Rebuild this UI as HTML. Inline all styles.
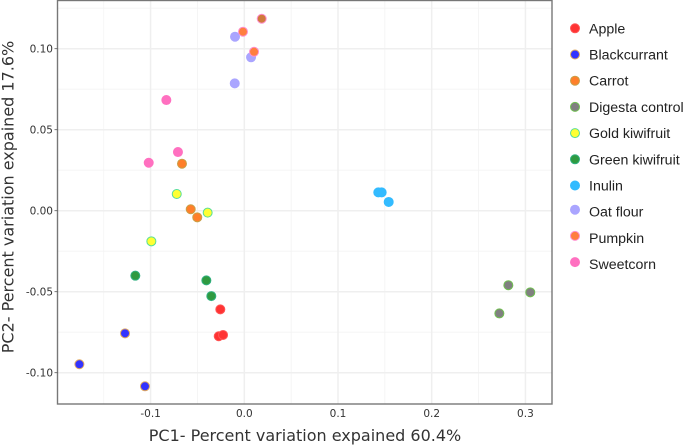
<!DOCTYPE html>
<html>
<head>
<meta charset="utf-8">
<title>PCA scatter plot</title>
<style>
html,body{margin:0;padding:0;background:#fff;width:685px;height:445px;overflow:hidden}
svg{display:block;filter:blur(0.35px)}
.tick{font-family:"DejaVu Sans",sans-serif;font-size:10.5px;fill:#333}
.title{font-family:"DejaVu Sans",sans-serif;font-size:16px;fill:#333}
.leg{font-family:"Liberation Sans",sans-serif;font-size:14.2px;fill:#222}
</style>
</head>
<body>
<svg id="chart" width="685" height="445" viewBox="0 0 685 445" xmlns="http://www.w3.org/2000/svg">
<g id="grid"></g>
<g id="points"></g>
<rect x="57.5" y="0.5" width="494.5" height="403.5" fill="none" stroke="#777" stroke-width="1.4"/>
<g id="ticks"></g>
<text class="title" x="305" y="441" text-anchor="middle">PC1- Percent variation expained 60.4%</text>
<text class="title" transform="translate(13.5,197) rotate(-90)" text-anchor="middle">PC2- Percent variation expained 17.6%</text>
<g id="legend"></g>
</svg>
<script>
const xTicks = [-0.1, 0, 0.1, 0.2, 0.3];
const xTickLabels = ['-0.1', '0.0', '0.1', '0.2', '0.3'];
const xMinor = [-0.15, -0.05, 0.05, 0.15, 0.25];
const yTicks = [0.1, 0.05, 0, -0.05, -0.1];
const yTickLabels = ['0.10', '0.05', '0.00', '-0.05', '-0.10'];
const yMinor = [0.125, 0.075, 0.025, -0.025, -0.075];

const categories = ['Apple', 'Blackcurrant', 'Carrot', 'Digesta control', 'Gold kiwifruit', 'Green kiwifruit', 'Inulin', 'Oat flour', 'Pumpkin', 'Sweetcorn'];
const fills = ['#ff3333', '#3333ff', '#ff7f2a', '#808080', '#ffff33', '#2f9a40', '#33bbff', '#aaa5ff', '#ff7f3f', '#ff70c0'];
const strokes = ['#ff5555', '#e0a860', '#c8a048', '#70c050', '#55dd99', '#30b080', '#33bbff', '#aaa5ff', '#ff90d0', '#ff70c0'];

const pc1Apple = [-0.0256, -0.0273, -0.0227];
const pc2Apple = [-0.0609, -0.0775, -0.0767];
const pc1Blackcurrant = [-0.1273, -0.176, -0.106];
const pc2Blackcurrant = [-0.0757, -0.0948, -0.1084];
const pc1Carrot = [-0.0665, -0.0572, -0.0502];
const pc2Carrot = [0.029, 0.0009, -0.0041];
const pc1Digesta = [0.2818, 0.3052, 0.2722];
const pc2Digesta = [-0.046, -0.0504, -0.0634];
const pc1Gold = [-0.0721, -0.0391, -0.0992];
const pc2Gold = [0.0103, -0.0012, -0.0189];
const pc1Green = [-0.1163, -0.0405, -0.0352];
const pc2Green = [-0.0401, -0.043, -0.0527];
const pc1Inulin = [0.143, 0.1466, 0.1541];
const pc2Inulin = [0.0113, 0.0113, 0.0054];
const pc1Oat = [-0.0099, 0.0072, -0.0102];
const pc2Oat = [0.1074, 0.0947, 0.0786];
const pc1Pumpkin = [-0.0014, 0.0104, 0.0186];
const pc2Pumpkin = [0.1105, 0.0981, 0.1185];
const pc1Sweetcorn = [-0.0832, -0.0708, -0.102];
const pc2Sweetcorn = [0.0683, 0.0362, 0.0296];

const pc1Series = [pc1Apple, pc1Blackcurrant, pc1Carrot, pc1Digesta, pc1Gold, pc1Green, pc1Inulin, pc1Oat, pc1Pumpkin, pc1Sweetcorn];
const pc2Series = [pc2Apple, pc2Blackcurrant, pc2Carrot, pc2Digesta, pc2Gold, pc2Green, pc2Inulin, pc2Oat, pc2Pumpkin, pc2Sweetcorn];

const NS = 'http://www.w3.org/2000/svg';
const left = 57.5, right = 552, top0 = 0.5, bottom = 404;
function xScale(v) { return 244.3 + v * 937; }
function yScale(v) { return 210.7 - v * 1620; }
function make(tag, attrs, parent) {
  const el = document.createElementNS(NS, tag);
  for (const k in attrs) el.setAttribute(k, attrs[k]);
  parent.appendChild(el);
  return el;
}
const grid = document.getElementById('grid');
const ticks = document.getElementById('ticks');
const pointsG = document.getElementById('points');
const legend = document.getElementById('legend');

xMinor.forEach(function (v) {
  const l = make('line', {x1: xScale(v), x2: xScale(v), y1: top0, y2: bottom, stroke: '#f3f3f3', 'stroke-width': 0.8}, grid);
  
  
});
yMinor.forEach(function (v) {
  const l = make('line', {x1: left, x2: right, y1: yScale(v), y2: yScale(v), stroke: '#f3f3f3', 'stroke-width': 0.8}, grid);
  
  
});
xTicks.forEach(function (v, i) {
  const x = xScale(v);
  const l = make('line', {x1: x, x2: x, y1: top0, y2: bottom, stroke: '#efefef', 'stroke-width': 1.5}, grid);
  
  
  const t = make('text', {x: x, y: 417, 'text-anchor': 'middle', class: 'tick'}, ticks);
  t.textContent = xTickLabels[i];
  
  
});
yTicks.forEach(function (v, i) {
  const y = yScale(v);
  const l = make('line', {x1: left, x2: right, y1: y, y2: y, stroke: '#efefef', 'stroke-width': 1.5}, grid);
  
  
  const m = make('line', {x1: 54.5, x2: left, y1: y, y2: y, stroke: '#555', 'stroke-width': 0.8}, ticks);
  
  
  const t = make('text', {x: 53, y: y + 3.8, 'text-anchor': 'end', class: 'tick'}, ticks);
  t.textContent = yTickLabels[i];
  
  
});
categories.forEach(function (name, s) {
  pc1Series[s].forEach(function (v, i) {
    const overlapped = name === 'Pumpkin' && i === 2;
    const c = make('circle', {cx: xScale(v), cy: yScale(pc2Series[s][i]), r: 4.5, fill: overlapped ? '#cf7a3c' : fills[s], stroke: strokes[s], 'stroke-width': 1}, pointsG);
    
    
  });
  const rowY = 28.3 + 26.2 * s;
  const markerShift = s >= 7 ? -2 : 0;
  const d = make('circle', {cx: 575, cy: rowY + markerShift, r: 4.5, fill: fills[s], stroke: strokes[s], 'stroke-width': 1}, legend);
  
  
  const t = make('text', {x: 589, y: rowY + 5, class: 'leg'}, legend);
  t.textContent = name;
  
  
});
</script>
</body>
</html>
